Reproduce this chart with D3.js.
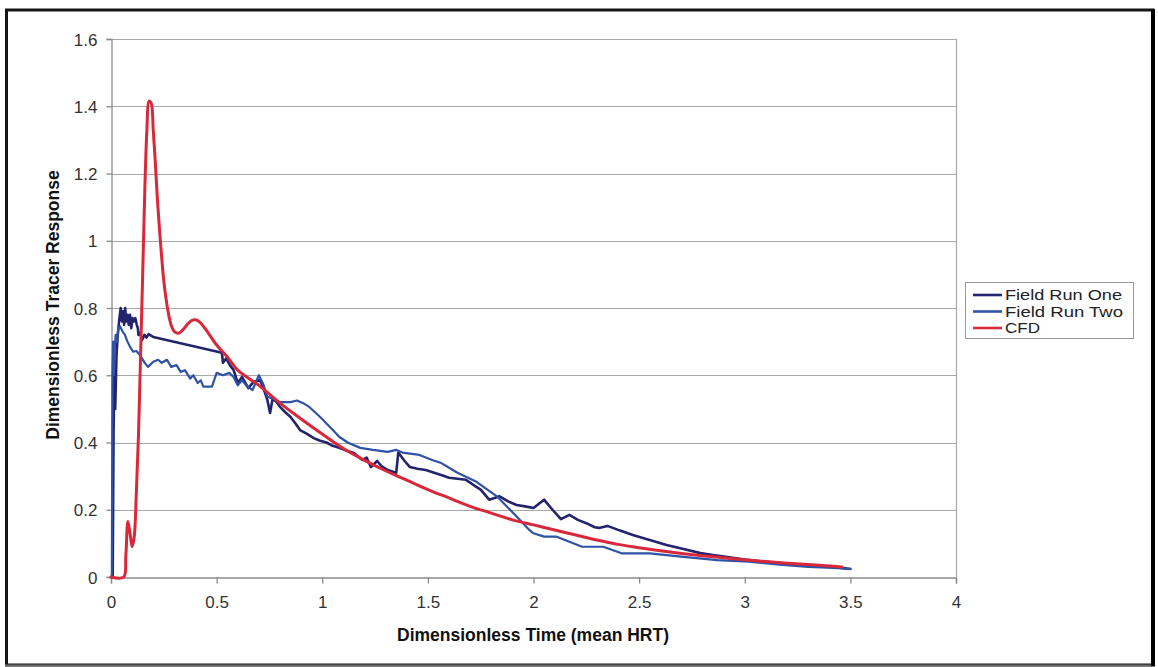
<!DOCTYPE html>
<html>
<head>
<meta charset="utf-8">
<script src="https://cdn.jsdelivr.net/npm/d3@7"></script>
<style>
  html, body { margin: 0; padding: 0; background: #ffffff; }
  svg { display: block; font-family: "Liberation Sans", Arial, sans-serif; }
</style>
</head>
<body>
<svg id="chart" width="1158" height="667"></svg>
<script>
// Residence-time distribution: two field tracer runs against the CFD prediction
const seriesNames = ["Field Run One", "Field Run Two", "CFD"];
const seriesColors = ["#23236e", "#2f52a6", "#d8283a"];

const xTicks = [0, 0.5, 1, 1.5, 2, 2.5, 3, 3.5, 4];
const yTicks = [0, 0.2, 0.4, 0.6, 0.8, 1, 1.2, 1.4, 1.6];

// [dimensionless time, dimensionless response]
const fieldRunOne = [
  [0,0],[0.008,0],[0.012,0.42],[0.016,0.62],[0.02,0.5],[0.026,0.66],[0.032,0.72],[0.04,0.77],
  [0.046,0.8],[0.052,0.76],[0.057,0.79],[0.062,0.75],[0.067,0.8],[0.072,0.76],[0.078,0.78],
  [0.084,0.75],[0.09,0.78],[0.096,0.74],[0.102,0.77],[0.108,0.76],[0.115,0.77],[0.122,0.75],
  [0.127,0.74],[0.13,0.72],[0.137,0.726],[0.147,0.705],[0.158,0.72],[0.168,0.712],[0.178,0.722],
  [0.2,0.714],[0.525,0.667],[0.53,0.637],[0.545,0.65],[0.565,0.628],[0.58,0.616],[0.6,0.577],
  [0.62,0.595],[0.65,0.562],[0.675,0.58],[0.705,0.586],[0.72,0.565],[0.74,0.527],[0.753,0.488],
  [0.765,0.53],[0.785,0.52],[0.8,0.506],[0.825,0.49],[0.85,0.476],[0.875,0.455],[0.895,0.437],
  [0.93,0.425],[0.96,0.413],[0.99,0.405],[1.02,0.4],[1.05,0.39],[1.08,0.384],[1.12,0.375],
  [1.15,0.369],[1.19,0.348],[1.21,0.355],[1.23,0.327],[1.26,0.345],[1.28,0.33],[1.31,0.318],
  [1.35,0.31],[1.36,0.37],[1.39,0.345],[1.415,0.327],[1.45,0.322],[1.49,0.318],[1.53,0.31],
  [1.57,0.302],[1.6,0.295],[1.64,0.292],[1.68,0.289],[1.72,0.272],[1.75,0.26],[1.79,0.23],
  [1.84,0.24],[1.88,0.225],[1.92,0.214],[1.96,0.21],[2.0,0.205],[2.05,0.23],[2.09,0.2],
  [2.13,0.172],[2.17,0.185],[2.21,0.17],[2.25,0.16],[2.29,0.148],[2.31,0.146],[2.35,0.152],
  [2.41,0.138],[2.47,0.125],[2.55,0.11],[2.63,0.095],[2.71,0.083],[2.79,0.071],[2.85,0.065],
  [2.91,0.06],[3.0,0.052],[3.1,0.045],[3.2,0.04],[3.3,0.035],[3.42,0.03],[3.5,0.024]
];

const fieldRunTwo = [
  [0,0],[0.004,0],[0.007,0.6],[0.01,0.7],[0.014,0.6],[0.018,0.68],[0.022,0.72],[0.028,0.7],
  [0.035,0.74],[0.043,0.745],[0.055,0.73],[0.066,0.72],[0.078,0.7],[0.09,0.685],[0.105,0.67],
  [0.12,0.672],[0.137,0.66],[0.16,0.637],[0.175,0.625],[0.2,0.64],[0.223,0.646],[0.24,0.637],
  [0.265,0.646],[0.285,0.625],[0.31,0.63],[0.33,0.61],[0.35,0.615],[0.375,0.59],[0.39,0.6],
  [0.41,0.577],[0.425,0.585],[0.437,0.566],[0.478,0.566],[0.5,0.607],[0.53,0.6],[0.56,0.607],
  [0.58,0.595],[0.6,0.57],[0.62,0.585],[0.64,0.57],[0.67,0.556],[0.7,0.6],[0.72,0.575],
  [0.74,0.536],[0.77,0.53],[0.8,0.52],[0.85,0.52],[0.88,0.525],[0.91,0.517],[0.94,0.505],
  [0.99,0.476],[1.05,0.437],[1.08,0.417],[1.12,0.4],[1.18,0.384],[1.24,0.378],[1.31,0.372],
  [1.35,0.378],[1.38,0.37],[1.46,0.363],[1.52,0.348],[1.56,0.34],[1.64,0.31],[1.73,0.283],
  [1.83,0.238],[1.92,0.18],[1.98,0.14],[2.0,0.13],[2.05,0.12],[2.11,0.12],[2.17,0.105],
  [2.23,0.09],[2.33,0.09],[2.42,0.07],[2.55,0.07],[2.71,0.06],[2.87,0.05],[3.02,0.046],
  [3.18,0.036],[3.3,0.03],[3.42,0.027],[3.5,0.024]
];

const cfd = [
  [0,0],[0.06,0],[0.07,0.06],[0.08,0.165],[0.09,0.13],[0.1,0.09],[0.11,0.12],[0.12,0.25],
  [0.13,0.42],[0.14,0.66],[0.15,0.9],[0.16,1.15],[0.17,1.33],[0.18,1.415],[0.19,1.41],
  [0.2,1.33],[0.21,1.23],[0.22,1.12],[0.23,1.03],[0.24,0.95],[0.25,0.88],[0.26,0.83],
  [0.27,0.79],[0.28,0.76],[0.29,0.74],[0.3,0.73],[0.32,0.725],[0.34,0.735],[0.36,0.75],
  [0.38,0.762],[0.4,0.765],[0.42,0.758],[0.45,0.735],[0.5,0.69],[0.55,0.655],[0.6,0.615],
  [0.7,0.57],[0.8,0.517],[0.9,0.47],[1.0,0.425],[1.1,0.382],[1.2,0.347],[1.3,0.316],
  [1.4,0.288],[1.5,0.26],[1.6,0.235],[1.7,0.21],[1.8,0.19],[1.9,0.17],[2.0,0.155],[2.1,0.14],
  [2.2,0.125],[2.3,0.11],[2.4,0.097],[2.5,0.087],[2.6,0.078],[2.7,0.07],[2.8,0.063],[2.9,0.057],
  [3.0,0.051],[3.1,0.046],[3.2,0.041],[3.3,0.037],[3.4,0.033],[3.46,0.03]
];

const svg = d3.select("#chart");
const W = 1158, H = 667;
const plot = { left: 111, right: 956, top: 39, bottom: 577 };

// outer frame
svg.append("rect").attr("x", 0).attr("y", 0).attr("width", W).attr("height", H).attr("fill", "#ffffff");
svg.append("rect").attr("x", 6.5).attr("y", 10).attr("width", 1146.5).attr("height", 655)
  .attr("fill", "none").attr("stroke", "#151515").attr("stroke-width", 3);
svg.append("line").attr("x1", 5).attr("x2", 1155).attr("y1", 665.5).attr("y2", 665.5)
  .attr("stroke", "#6a6a6a").attr("stroke-width", 2);
svg.append("line").attr("x1", 1153).attr("x2", 1153).attr("y1", 9).attr("y2", 666)
  .attr("stroke", "#000000").attr("stroke-width", 4);

const x = d3.scaleLinear().domain([0, 4]).range([plot.left, plot.right]);
const y = d3.scaleLinear().domain([0, 1.6]).range([plot.bottom, plot.top]);

// gridlines
svg.append("g").selectAll("line").data(yTicks.filter(v => v > 0)).join("line")
  .attr("x1", plot.left).attr("x2", plot.right)
  .attr("y1", d => Math.round(y(d)) + 0.5).attr("y2", d => Math.round(y(d)) + 0.5)
  .attr("stroke", "#a8a8a8").attr("stroke-width", 1.2);
// right border of plot area
svg.append("line").attr("x1", plot.right + 0.5).attr("x2", plot.right + 0.5)
  .attr("y1", plot.top).attr("y2", plot.bottom)
  .attr("stroke", "#a8a8a8").attr("stroke-width", 1.2);

const fmt = d => String(d);

// axes
const xAxis = d3.axisBottom(x).tickValues(xTicks).tickFormat(fmt).tickSize(6).tickPadding(12);
const yAxis = d3.axisLeft(y).tickValues(yTicks).tickFormat(fmt).tickSize(5).tickPadding(9);

const gx = svg.append("g").attr("transform", `translate(0,${plot.bottom + 0.5})`).call(xAxis);
const gy = svg.append("g").attr("transform", `translate(${plot.left + 0.5},0)`).call(yAxis);
[gx, gy].forEach(g => {
  g.select(".domain").attr("stroke", "#8a8a8a").attr("stroke-width", 1.3);
  g.selectAll(".tick line").attr("stroke", "#8a8a8a").attr("stroke-width", 1.3);
  g.selectAll(".tick text").attr("fill", "#333333")
    .style("font-size", "17px").style("font-family", "'Liberation Sans', Arial, sans-serif");
});
gy.selectAll(".tick text").attr("dy", "0.36em");

// axis titles
svg.append("text").attr("x", 533).attr("y", 641).attr("text-anchor", "middle")
  .style("font-size", "17.5px").style("font-weight", "bold").attr("fill", "#111")
  .text("Dimensionless Time (mean HRT)");
svg.append("text").attr("transform", "translate(59,305) rotate(-90)").attr("text-anchor", "middle")
  .style("font-size", "17.5px").style("font-weight", "bold").attr("fill", "#111")
  .text("Dimensionless Tracer Response");

// series lines
const lineStraight = d3.line().x(d => x(d[0])).y(d => y(d[1]));
const lineSmooth = d3.line().x(d => x(d[0])).y(d => y(d[1])).curve(d3.curveCatmullRom.alpha(0.5));

const series = [
  { data: fieldRunOne, gen: lineStraight, width: 2.6 },
  { data: fieldRunTwo, gen: lineStraight, width: 2.2 },
  { data: cfd, gen: lineSmooth, width: 3 }
];
series.forEach((s, i) => {
  svg.append("path").datum(s.data)
    .attr("d", s.gen)
    .attr("fill", "none")
    .attr("stroke", seriesColors[i])
    .attr("stroke-width", s.width)
    .attr("stroke-linejoin", "round")
    .attr("stroke-linecap", "round");
});

// legend
const legendWidths = [117, 118, 35];
const lg = svg.append("g").attr("transform", "translate(965,282)");
lg.append("rect").attr("x", 0.5).attr("y", 0.5).attr("width", 168).attr("height", 56)
  .attr("fill", "#ffffff").attr("stroke", "#9a9a9a").attr("stroke-width", 1);
seriesNames.forEach((name, i) => {
  const cy = 13 + i * 16.5;
  lg.append("line").attr("x1", 8).attr("x2", 37).attr("y1", cy).attr("y2", cy)
    .attr("stroke", seriesColors[i]).attr("stroke-width", 2.6);
  lg.append("text").attr("x", 40).attr("y", cy).attr("dy", "0.36em")
    .attr("textLength", legendWidths[i]).attr("lengthAdjust", "spacingAndGlyphs")
    .style("font-size", "14.5px").attr("fill", "#222").text(name);
});
</script>
</body>
</html>
